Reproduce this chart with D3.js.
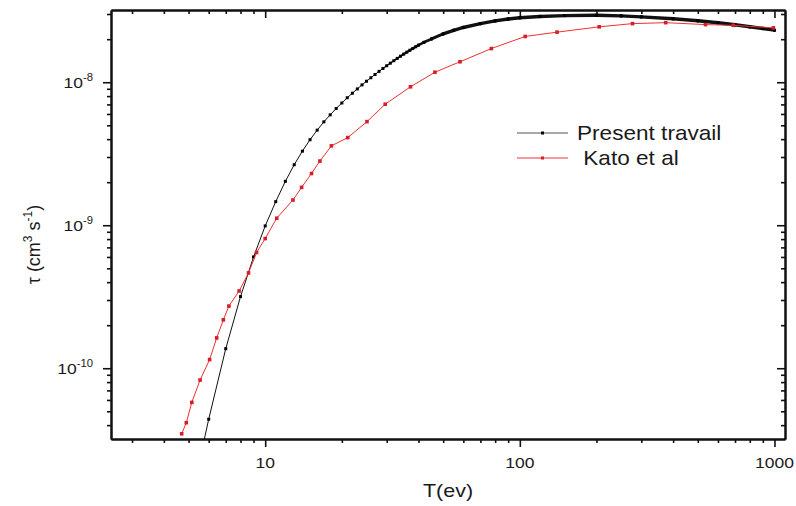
<!DOCTYPE html>
<html>
<head>
<meta charset="utf-8">
<script src="https://cdn.jsdelivr.net/npm/d3@7"></script>
<style>
body { margin: 0; background: #fff; }
text { font-family: "Liberation Sans", Arial, sans-serif; fill: #1a1a1a; }
</style>
</head>
<body>
<div id="chart"></div>
<script>
// Dimensions
const width = 796;
const height = 506;
const plot = { left: 111, right: 785, top: 10, bottom: 439 };

// Present travail (T in eV, tau in cm^3 s^-1)
const presentT = [5, 6, 7, 8, 9, 10, 11, 12, 13, 14, 15, 16, 17, 18, 19, 20, 21, 22, 23, 24, 25,
    26, 27, 28, 29, 30, 31, 32, 33, 34, 35, 36, 37, 38, 39, 40, 42, 45, 50, 55, 60, 70, 80, 90,
    100, 120, 150, 200, 250, 300, 400, 500, 600, 700, 800, 900, 1000];
const presentTau = [1.0e-11, 4.40e-11, 1.37e-10, 3.17e-10, 6.00e-10, 9.89e-10, 1.462e-9, 2.028e-9,
    2.649e-9, 3.296e-9, 3.963e-9, 4.624e-9, 5.284e-9, 5.916e-9, 6.546e-9, 7.16e-9, 7.79e-9,
    8.38e-9, 8.98e-9, 9.58e-9, 1.0165e-8, 1.075e-8, 1.133e-8, 1.191e-8, 1.248e-8, 1.304e-8,
    1.359e-8, 1.414e-8, 1.468e-8, 1.521e-8, 1.573e-8, 1.624e-8, 1.674e-8, 1.723e-8, 1.770e-8,
    1.817e-8, 1.901e-8, 2.009e-8, 2.178e-8, 2.307e-8, 2.415e-8, 2.570e-8, 2.685e-8, 2.767e-8,
    2.825e-8, 2.884e-8, 2.924e-8, 2.938e-8, 2.911e-8, 2.864e-8, 2.780e-8, 2.692e-8, 2.606e-8,
    2.523e-8, 2.443e-8, 2.377e-8, 2.312e-8];

// Kato et al
const katoT = [4.7, 4.9, 5.15, 5.55, 6.05, 6.45, 6.85, 7.2, 7.9, 8.6, 9.25, 10, 11.1, 12.85,
    13.9, 15.2, 16.4, 18.2, 21.1, 25.1, 29.6, 37.2, 46.4, 58.2, 77.3, 105, 140, 205, 277, 374,
    536, 689, 990];
const katoTau = [3.48e-11, 4.16e-11, 5.77e-11, 8.27e-11, 1.15e-10, 1.63e-10, 2.18e-10, 2.72e-10,
    3.47e-10, 4.64e-10, 6.45e-10, 8.07e-10, 1.12e-9, 1.50e-9, 1.84e-9, 2.30e-9, 2.81e-9,
    3.59e-9, 4.10e-9, 5.30e-9, 7.02e-9, 9.29e-9, 1.175e-8, 1.39e-8, 1.72e-8, 2.09e-8, 2.24e-8,
    2.44e-8, 2.57e-8, 2.61e-8, 2.53e-8, 2.50e-8, 2.40e-8];

// Axis labels
const xMajor = [10, 100, 1000];
const yMajor = [1e-10, 1e-9, 1e-8];
const yMajorLabels = ["-10", "-9", "-8"];
const seriesNames = ["Present travail", " Kato et al"];

const present = presentT.map((t, i) => ({ t: t, v: presentTau[i] }));
const kato = katoT.map((t, i) => ({ t: t, v: katoTau[i] }));

const x = d3.scaleLog().domain([2.48, 1100]).range([plot.left, plot.right]);
const y = d3.scaleLog().domain([3.2e-11, 3.2e-8]).range([plot.bottom, plot.top]);

const svg = d3.select("#chart").append("svg")
    .attr("width", width)
    .attr("height", height);

svg.append("defs").append("clipPath").attr("id", "clip")
    .append("rect")
    .attr("x", plot.left).attr("y", plot.top)
    .attr("width", plot.right - plot.left).attr("height", plot.bottom - plot.top);

// stretched text helper (the source image is a little wide)
function stretchText(g, px, py, anchor, size) {
    return g.append("text")
        .attr("transform", `translate(${px},${py}) scale(1.13,1)`)
        .attr("text-anchor", anchor)
        .attr("font-size", size);
}

// Axes - major and minor ticks
const xMinor = x.ticks().filter(d => !xMajor.includes(d));
const yMinor = y.ticks().filter(d => !yMajor.some(m => Math.abs(m - d) / m < 1e-6));

function drawAxis(axisFn, scale, pos, major, minor, inward) {
    const s = inward ? -1 : 1;
    const g = svg.append("g").attr("transform", pos);
    g.append("g").call(axisFn(scale).tickValues(minor).tickSizeInner(4 * s).tickSizeOuter(0).tickFormat(""));
    g.append("g").call(axisFn(scale).tickValues(major).tickSizeInner(8 * s).tickSizeOuter(0).tickFormat(""));
    g.selectAll("path.domain").attr("stroke", "#111").attr("stroke-width", 2);
    g.selectAll(".tick line").attr("stroke", "#111").attr("stroke-width", 1.6);
}
drawAxis(d3.axisBottom, x, `translate(0,${plot.bottom})`, xMajor, xMinor, false);
drawAxis(d3.axisTop, x, `translate(0,${plot.top})`, xMajor, xMinor, true);
drawAxis(d3.axisLeft, y, `translate(${plot.left},0)`, yMajor, yMinor, false);
drawAxis(d3.axisRight, y, `translate(${plot.right},0)`, yMajor, yMinor, true);

// Tick labels
xMajor.forEach(d => {
    stretchText(svg, x(d), 468, "middle", 15.5).text(d);
});
yMajor.forEach((d, i) => {
    const t = stretchText(svg, 93, y(d) + 6, "end", 15.5);
    t.append("tspan").text("10");
    t.append("tspan").attr("font-size", 10).attr("dy", -7).text(yMajorLabels[i]);
});

// Axis titles
stretchText(svg, (plot.left + plot.right) / 2, 497, "middle", 19).text("T(ev)");
const yt = svg.append("text")
    .attr("transform", `translate(40,${(plot.top + plot.bottom) / 2 + 20}) rotate(-90)`)
    .attr("text-anchor", "middle")
    .attr("font-size", 18);
yt.append("tspan").text("\u03c4 (cm");
yt.append("tspan").attr("font-size", 12).attr("dy", -8).text("3");
yt.append("tspan").attr("dy", 8).text(" s");
yt.append("tspan").attr("font-size", 12).attr("dy", -8).text("-1");
yt.append("tspan").attr("dy", 8).text(")");

// Curves
const line = d3.line().x(d => x(d.t)).y(d => y(d.v));
const data = svg.append("g").attr("clip-path", "url(#clip)");

// the dense run of points merges into a thick band as T grows
const bandWidth = d3.scaleLog().domain([28, 48]).range([1, 3.4]).clamp(true);
data.selectAll(".pseg").data(d3.pairs(present)).join("path")
    .attr("fill", "none").attr("stroke", "#111")
    .attr("stroke-linecap", "round")
    .attr("stroke-width", d => bandWidth(d[0].t))
    .attr("d", d => line(d));
data.selectAll(".pm").data(present).join("rect")
    .attr("x", d => x(d.t) - 1.5).attr("y", d => y(d.v) - 1.5)
    .attr("width", 3).attr("height", 3).attr("fill", "#000");

data.append("path").datum(kato)
    .attr("fill", "none").attr("stroke", "#f03030").attr("stroke-width", 1)
    .attr("d", line);
data.selectAll(".km").data(kato).join("rect")
    .attr("x", d => x(d.t) - 1.8).attr("y", d => y(d.v) - 1.8)
    .attr("width", 3.6).attr("height", 3.6).attr("fill", "#d41e2a");

// Legend
const legendColors = [["#555", "#000"], ["#f03030", "#d41e2a"]];
seriesNames.forEach((name, i) => {
    const ly = 133 + i * 25;
    svg.append("line").attr("x1", 517).attr("x2", 568).attr("y1", ly).attr("y2", ly)
        .attr("stroke", legendColors[i][0]).attr("stroke-width", 1);
    svg.append("rect").attr("x", 541).attr("y", ly - 1.5).attr("width", 3).attr("height", 3)
        .attr("fill", legendColors[i][1]);
    stretchText(svg, 577, ly + 7, "start", 20).attr("xml:space", "preserve").text(name);
});
</script>
</body>
</html>
